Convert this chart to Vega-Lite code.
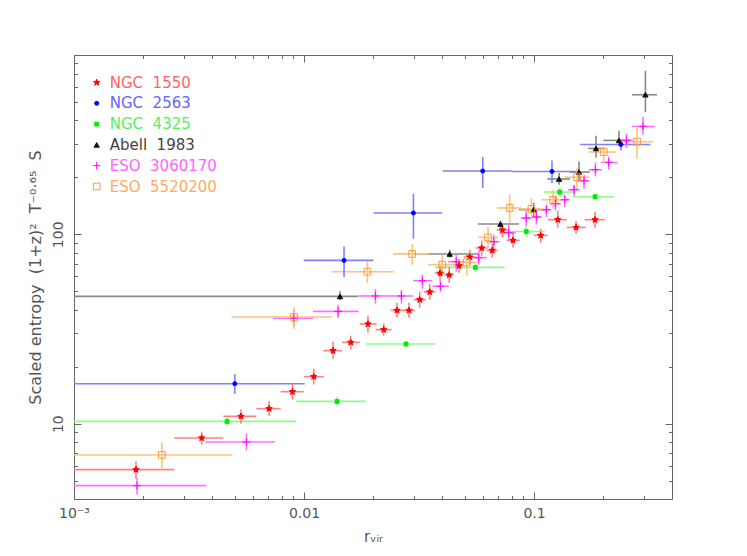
{
  "$schema": "https://vega.github.io/schema/vega-lite/v6.json",
  "width": 598,
  "height": 444,
  "autosize": "none",
  "padding": {"left": 74, "top": 55, "right": 75, "bottom": 57},
  "background": "white",
  "config": {
    "view": {"stroke": "#666666", "strokeWidth": 1},
    "font": "DejaVu Sans",
    "axis": {
      "domain": false,
      "grid": false,
      "tickColor": "#666666",
      "tickWidth": 1,
      "labelColor": "#555555",
      "labelFont": "DejaVu Sans",
      "labelFontSize": 14,
      "titleFont": "DejaVu Sans",
      "titleFontSize": 15,
      "titleFontWeight": "normal",
      "titleColor": "#555555"
    }
  },
  "data": {
    "values": [
      {"s": "NGC 1550", "x": 0.00186, "xlo": 0.001, "xhi": 0.00273, "y": 5.72, "ylo": 5.12, "yhi": 6.32},
      {"s": "NGC 1550", "x": 0.00359, "xlo": 0.00273, "xhi": 0.00446, "y": 8.40, "ylo": 7.75, "yhi": 9.07},
      {"s": "NGC 1550", "x": 0.00532, "xlo": 0.00446, "xhi": 0.00621, "y": 10.93, "ylo": 10.0, "yhi": 11.86},
      {"s": "NGC 1550", "x": 0.00705, "xlo": 0.00621, "xhi": 0.00792, "y": 12.0, "ylo": 11.02, "yhi": 13.23},
      {"s": "NGC 1550", "x": 0.00891, "xlo": 0.00792, "xhi": 0.00997, "y": 14.75, "ylo": 13.39, "yhi": 16.26},
      {"s": "NGC 1550", "x": 0.01102, "xlo": 0.00997, "xhi": 0.01218, "y": 17.71, "ylo": 16.07, "yhi": 19.51},
      {"s": "NGC 1550", "x": 0.01337, "xlo": 0.01212, "xhi": 0.01466, "y": 24.29, "ylo": 22.04, "yhi": 27.10},
      {"s": "NGC 1550", "x": 0.01596, "xlo": 0.01466, "xhi": 0.01746, "y": 26.87, "ylo": 24.59, "yhi": 29.14},
      {"s": "NGC 1550", "x": 0.01897, "xlo": 0.01746, "xhi": 0.02071, "y": 33.61, "ylo": 30.23, "yhi": 37.18},
      {"s": "NGC 1550", "x": 0.02221, "xlo": 0.0205, "xhi": 0.02406, "y": 31.36, "ylo": 29.14, "yhi": 33.73},
      {"s": "NGC 1550", "x": 0.02537, "xlo": 0.02382, "xhi": 0.02713, "y": 39.65, "ylo": 36.28, "yhi": 43.53},
      {"s": "NGC 1550", "x": 0.02861, "xlo": 0.02686, "xhi": 0.03029, "y": 39.65, "ylo": 36.28, "yhi": 43.53},
      {"s": "NGC 1550", "x": 0.03184, "xlo": 0.02999, "xhi": 0.03381, "y": 45.15, "ylo": 40.97, "yhi": 49.78},
      {"s": "NGC 1550", "x": 0.0352, "xlo": 0.03314, "xhi": 0.03738, "y": 49.60, "ylo": 45.15, "yhi": 54.86},
      {"s": "NGC 1550", "x": 0.03902, "xlo": 0.037, "xhi": 0.0409, "y": 62.32, "ylo": 56.90, "yhi": 68.26},
      {"s": "NGC 1550", "x": 0.04279, "xlo": 0.0409, "xhi": 0.04476, "y": 60.97, "ylo": 55.54, "yhi": 67.44},
      {"s": "NGC 1550", "x": 0.0472, "xlo": 0.04476, "xhi": 0.04947, "y": 68.26, "ylo": 62.70, "yhi": 74.33},
      {"s": "NGC 1550", "x": 0.05254, "xlo": 0.04947, "xhi": 0.05578, "y": 75.88, "ylo": 69.10, "yhi": 82.93},
      {"s": "NGC 1550", "x": 0.05923, "xlo": 0.05578, "xhi": 0.0629, "y": 84.66, "ylo": 77.09, "yhi": 92.51},
      {"s": "NGC 1550", "x": 0.06581, "xlo": 0.06227, "xhi": 0.06953, "y": 82.22, "ylo": 75.24, "yhi": 89.20},
      {"s": "NGC 1550", "x": 0.07287, "xlo": 0.06884, "xhi": 0.07684, "y": 105.4, "ylo": 95.96, "yhi": 115.2},
      {"s": "NGC 1550", "x": 0.08103, "xlo": 0.07608, "xhi": 0.08665, "y": 92.85, "ylo": 84.97, "yhi": 101.98},
      {"s": "NGC 1550", "x": 0.1069, "xlo": 0.0997, "xhi": 0.1147, "y": 98.67, "ylo": 90.29, "yhi": 107.0},
      {"s": "NGC 1550", "x": 0.1268, "xlo": 0.1147, "xhi": 0.1388, "y": 119.4, "ylo": 108.3, "yhi": 133.2},
      {"s": "NGC 1550", "x": 0.1523, "xlo": 0.1388, "xhi": 0.1678, "y": 108.7, "ylo": 100.7, "yhi": 118.0},
      {"s": "NGC 1550", "x": 0.1842, "xlo": 0.1661, "xhi": 0.2029, "y": 119.4, "ylo": 108.3, "yhi": 131.6},
      {"s": "NGC 2563", "x": 0.005, "xlo": 0.001, "xhi": 0.01007, "y": 16.26, "ylo": 14.35, "yhi": 18.30},
      {"s": "NGC 2563", "x": 0.01493, "xlo": 0.00997, "xhi": 0.02004, "y": 72.81, "ylo": 59.50, "yhi": 86.32},
      {"s": "NGC 2563", "x": 0.0299, "xlo": 0.02004, "xhi": 0.03997, "y": 129.6, "ylo": 94.79, "yhi": 163.8},
      {"s": "NGC 2563", "x": 0.05983, "xlo": 0.04009, "xhi": 0.07998, "y": 215.9, "ylo": 175.6, "yhi": 255.9},
      {"s": "NGC 2563", "x": 0.1197, "xlo": 0.07998, "xhi": 0.1588, "y": 214.8, "ylo": 186.6, "yhi": 245.6},
      {"s": "NGC 2563", "x": 0.2389, "xlo": 0.1588, "xhi": 0.3207, "y": 298.3, "ylo": 277.3, "yhi": 313.2},
      {"s": "NGC 4325", "x": 0.00463, "xlo": 0.001, "xhi": 0.00927, "y": 10.28, "ylo": 9.76, "yhi": 10.89},
      {"s": "NGC 4325", "x": 0.01392, "xlo": 0.00925, "xhi": 0.01854, "y": 13.11, "ylo": 12.45, "yhi": 13.88},
      {"s": "NGC 4325", "x": 0.02776, "xlo": 0.01854, "xhi": 0.03719, "y": 26.35, "ylo": 25.34, "yhi": 27.43},
      {"s": "NGC 4325", "x": 0.05561, "xlo": 0.03719, "xhi": 0.07457, "y": 66.87, "ylo": 63.46, "yhi": 69.94},
      {"s": "NGC 4325", "x": 0.09249, "xlo": 0.07608, "xhi": 0.1113, "y": 103.5, "ylo": 97.13, "yhi": 111.0},
      {"s": "NGC 4325", "x": 0.1294, "xlo": 0.1102, "xhi": 0.1488, "y": 167.2, "ylo": 157.4, "yhi": 175.6},
      {"s": "NGC 4325", "x": 0.1842, "xlo": 0.1481, "xhi": 0.222, "y": 157.9, "ylo": 152.2, "yhi": 163.8},
      {"s": "Abell 1983", "x": 0.01434, "xlo": 0.001, "xhi": 0.01712, "y": 47.0, "ylo": 44.87, "yhi": 49.96},
      {"s": "Abell 1983", "x": 0.043, "xlo": 0.02978, "xhi": 0.05708, "y": 78.70, "ylo": 75.24, "yhi": 82.93},
      {"s": "Abell 1983", "x": 0.07143, "xlo": 0.05708, "xhi": 0.08605, "y": 113.3, "ylo": 108.3, "yhi": 118.0},
      {"s": "Abell 1983", "x": 0.0997, "xlo": 0.08605, "xhi": 0.1136, "y": 134.9, "ylo": 123.9, "yhi": 146.9},
      {"s": "Abell 1983", "x": 0.1285, "xlo": 0.1141, "xhi": 0.1437, "y": 195.8, "ylo": 182.7, "yhi": 210.7},
      {"s": "Abell 1983", "x": 0.1569, "xlo": 0.143, "xhi": 0.1747, "y": 213.3, "ylo": 190.3, "yhi": 242.6},
      {"s": "Abell 1983", "x": 0.186, "xlo": 0.1721, "xhi": 0.2009, "y": 284.2, "ylo": 254.7, "yhi": 331.6},
      {"s": "Abell 1983", "x": 0.2341, "xlo": 0.1999, "xhi": 0.2673, "y": 313.2, "ylo": 291.2, "yhi": 352.4},
      {"s": "Abell 1983", "x": 0.305, "xlo": 0.2668, "xhi": 0.3426, "y": 545.8, "ylo": 442.3, "yhi": 730.9},
      {"s": "ESO 3060170", "x": 0.00188, "xlo": 0.001, "xhi": 0.00376, "y": 4.706, "ylo": 4.219, "yhi": 5.168},
      {"s": "ESO 3060170", "x": 0.00562, "xlo": 0.00373, "xhi": 0.00746, "y": 8.003, "ylo": 7.228, "yhi": 8.855},
      {"s": "ESO 3060170", "x": 0.00902, "xlo": 0.00733, "xhi": 0.01094, "y": 36.06, "ylo": 32.52, "yhi": 39.99},
      {"s": "ESO 3060170", "x": 0.01406, "xlo": 0.01094, "xhi": 0.01729, "y": 39.17, "ylo": 36.15, "yhi": 42.51},
      {"s": "ESO 3060170", "x": 0.02044, "xlo": 0.01717, "xhi": 0.02358, "y": 47.23, "ylo": 43.03, "yhi": 51.43},
      {"s": "ESO 3060170", "x": 0.02651, "xlo": 0.02358, "xhi": 0.02978, "y": 47.23, "ylo": 43.03, "yhi": 50.99},
      {"s": "ESO 3060170", "x": 0.03271, "xlo": 0.02978, "xhi": 0.03616, "y": 56.90, "ylo": 51.62, "yhi": 61.19},
      {"s": "ESO 3060170", "x": 0.03918, "xlo": 0.03616, "xhi": 0.04257, "y": 53.21, "ylo": 49.60, "yhi": 57.11},
      {"s": "ESO 3060170", "x": 0.04589, "xlo": 0.04228, "xhi": 0.04997, "y": 71.67, "ylo": 63.46, "yhi": 78.03},
      {"s": "ESO 3060170", "x": 0.05748, "xlo": 0.05254, "xhi": 0.06227, "y": 75.24, "ylo": 69.10, "yhi": 81.93},
      {"s": "ESO 3060170", "x": 0.0668, "xlo": 0.06227, "xhi": 0.07093, "y": 91.39, "ylo": 82.93, "yhi": 99.52},
      {"s": "ESO 3060170", "x": 0.07762, "xlo": 0.07093, "xhi": 0.08325, "y": 101.98, "ylo": 92.51, "yhi": 112.4},
      {"s": "ESO 3060170", "x": 0.09249, "xlo": 0.08752, "xhi": 0.09802, "y": 121.9, "ylo": 111.0, "yhi": 133.2},
      {"s": "ESO 3060170", "x": 0.1024, "xlo": 0.09743, "xhi": 0.1083, "y": 123.4, "ylo": 112.4, "yhi": 134.9},
      {"s": "ESO 3060170", "x": 0.1132, "xlo": 0.1077, "xhi": 0.119, "y": 134.9, "ylo": 123.4, "yhi": 143.3},
      {"s": "ESO 3060170", "x": 0.1239, "xlo": 0.117, "xhi": 0.1307, "y": 145.0, "ylo": 133.7, "yhi": 157.4},
      {"s": "ESO 3060170", "x": 0.136, "xlo": 0.1294, "xhi": 0.143, "y": 152.2, "ylo": 139.4, "yhi": 161.9},
      {"s": "ESO 3060170", "x": 0.1493, "xlo": 0.1406, "xhi": 0.158, "y": 172.0, "ylo": 158.5, "yhi": 182.7},
      {"s": "ESO 3060170", "x": 0.165, "xlo": 0.1553, "xhi": 0.1747, "y": 191.9, "ylo": 173.5, "yhi": 206.4},
      {"s": "ESO 3060170", "x": 0.1849, "xlo": 0.1729, "xhi": 0.1975, "y": 219.3, "ylo": 202.2, "yhi": 239.7},
      {"s": "ESO 3060170", "x": 0.2112, "xlo": 0.195, "xhi": 0.2304, "y": 239.7, "ylo": 219.3, "yhi": 257.8},
      {"s": "ESO 3060170", "x": 0.2521, "xlo": 0.2358, "xhi": 0.2686, "y": 313.2, "ylo": 286.6, "yhi": 339.8},
      {"s": "ESO 3060170", "x": 0.2978, "xlo": 0.2668, "xhi": 0.3348, "y": 371.3, "ylo": 335.7, "yhi": 417.8},
      {"s": "ESO 5520200", "x": 0.00241, "xlo": 0.001, "xhi": 0.00488, "y": 6.835, "ylo": 5.716, "yhi": 7.964},
      {"s": "ESO 5520200", "x": 0.00905, "xlo": 0.00484, "xhi": 0.01329, "y": 36.59, "ylo": 31.74, "yhi": 41.12},
      {"s": "ESO 5520200", "x": 0.01886, "xlo": 0.01323, "xhi": 0.02455, "y": 63.46, "ylo": 55.33, "yhi": 71.93},
      {"s": "ESO 5520200", "x": 0.02954, "xlo": 0.02438, "xhi": 0.03484, "y": 78.79, "ylo": 69.10, "yhi": 88.88},
      {"s": "ESO 5520200", "x": 0.03989, "xlo": 0.03467, "xhi": 0.04589, "y": 69.10, "ylo": 60.45, "yhi": 78.03},
      {"s": "ESO 5520200", "x": 0.05098, "xlo": 0.04589, "xhi": 0.05708, "y": 71.06, "ylo": 60.45, "yhi": 78.03},
      {"s": "ESO 5520200", "x": 0.0631, "xlo": 0.05708, "xhi": 0.06974, "y": 96.30, "ylo": 84.66, "yhi": 109.3},
      {"s": "ESO 5520200", "x": 0.0784, "xlo": 0.06904, "xhi": 0.08814, "y": 137.7, "ylo": 114.7, "yhi": 161.9},
      {"s": "ESO 5520200", "x": 0.09743, "xlo": 0.08665, "xhi": 0.1094, "y": 136.2, "ylo": 119.4, "yhi": 155.5},
      {"s": "ESO 5520200", "x": 0.1212, "xlo": 0.1077, "xhi": 0.136, "y": 152.2, "ylo": 136.5, "yhi": 172.0},
      {"s": "ESO 5520200", "x": 0.1538, "xlo": 0.136, "xhi": 0.1735, "y": 200.3, "ylo": 174.1, "yhi": 224.7},
      {"s": "ESO 5520200", "x": 0.2009, "xlo": 0.1729, "xhi": 0.2281, "y": 272.0, "ylo": 237.9, "yhi": 291.2},
      {"s": "ESO 5520200", "x": 0.2805, "xlo": 0.2281, "xhi": 0.3291, "y": 308.3, "ylo": 249.8, "yhi": 364.2}
    ]
  },
  "resolve": {"scale": {"y": "independent", "color": "independent"}},
  "layer": [
    {
      "resolve": {"axis": {"x": "independent", "y": "independent"}},
      "layer": [
        {
          "mark": {"type": "rule", "strokeWidth": 1.6},
          "encoding": {
            "x": {
              "field": "xlo",
              "type": "quantitative",
              "scale": {"type": "log", "domain": [0.001, 0.398], "nice": false},
              "axis": {
                "orient": "bottom",
                "title": "rᵥᵢᵣ",
                "titlePadding": 9,
                "values": [0.001, 0.002, 0.003, 0.004, 0.005, 0.006, 0.007, 0.008, 0.009, 0.01, 0.02, 0.03, 0.04, 0.05, 0.06, 0.07, 0.08, 0.09, 0.1, 0.2, 0.3],
                "labelExpr": "datum.value == 0.001 ? '10⁻³' : datum.value == 0.01 ? '0.01' : datum.value == 0.1 ? '0.1' : ''",
                "labelPadding": 14,
                "labelFlush": false,
                "tickSize": {"condition": {"test": "datum.value == 0.001 || datum.value == 0.01 || datum.value == 0.1", "value": -7}, "value": -3.5}
              }
            },
            "x2": {"field": "xhi"},
            "y": {
              "field": "y",
              "type": "quantitative",
              "scale": {"type": "log", "domain": [4, 885], "nice": false},
              "axis": {
                "orient": "left",
                "title": "Scaled entropy\u00a0 (1+z)²\u00a0 T⁻⁰·⁶⁵\u00a0 S",
                "titleFontSize": 16,
                "titlePadding": 8,
                "values": [4, 5, 6, 7, 8, 9, 10, 20, 30, 40, 50, 60, 70, 80, 90, 100, 200, 300, 400, 500, 600, 700, 800],
                "labelExpr": "datum.value == 10 ? '10' : datum.value == 100 ? '100' : ''",
                "labelAngle": -90,
                "labelAlign": "center",
                "labelBaseline": "bottom",
                "labelPadding": 16,
                "labelFlush": false,
                "tickSize": {"condition": {"test": "datum.value == 10 || datum.value == 100", "value": -7}, "value": -3.5}
              }
            },
            "color": {
              "field": "s",
              "type": "nominal",
              "scale": {
                "domain": ["NGC 1550", "NGC 2563", "NGC 4325", "Abell 1983", "ESO 3060170", "ESO 5520200"],
                "range": ["#ff8080", "#8080ff", "#88ff88", "#888888", "#ff70ff", "#ffc080"]
              },
              "legend": null
            }
          }
        },
        {
          "mark": {"type": "rule", "strokeWidth": 1.6},
          "encoding": {
            "x": {"field": "x", "type": "quantitative", "axis": null},
            "y": {"field": "ylo", "type": "quantitative", "axis": null},
            "y2": {"field": "yhi"},
            "color": {"field": "s", "type": "nominal", "legend": null}
          }
        },
        {
          "mark": {"type": "point", "strokeWidth": 1, "opacity": 1},
          "encoding": {
            "x": {
              "field": "x",
              "type": "quantitative",
              "axis": {
                "orient": "top",
                "title": null,
                "labels": false,
                "values": [0.001, 0.002, 0.003, 0.004, 0.005, 0.006, 0.007, 0.008, 0.009, 0.01, 0.02, 0.03, 0.04, 0.05, 0.06, 0.07, 0.08, 0.09, 0.1, 0.2, 0.3],
                "tickSize": {"condition": {"test": "datum.value == 0.001 || datum.value == 0.01 || datum.value == 0.1", "value": -7}, "value": -3.5}
              }
            },
            "y": {
              "field": "y",
              "type": "quantitative",
              "axis": {
                "orient": "right",
                "title": null,
                "labels": false,
                "values": [4, 5, 6, 7, 8, 9, 10, 20, 30, 40, 50, 60, 70, 80, 90, 100, 200, 300, 400, 500, 600, 700, 800],
                "tickSize": {"condition": {"test": "datum.value == 10 || datum.value == 100", "value": -7}, "value": -3.5}
              }
            },
            "shape": {
              "field": "s",
              "type": "nominal",
              "scale": {
                "domain": ["NGC 1550", "NGC 2563", "NGC 4325", "Abell 1983", "ESO 3060170", "ESO 5520200"],
                "range": [
                  "M0,-1L0.235,-0.324L0.951,-0.309L0.38,0.124L0.588,0.809L0,0.4L-0.588,0.809L-0.38,0.124L-0.951,-0.309L-0.235,-0.324Z",
                  "circle", "square", "triangle-up", "M-1,0L1,0M0,-1L0,1", "square"
                ]
              },
              "legend": null
            },
            "fill": {
              "field": "s",
              "type": "nominal",
              "scale": {
                "domain": ["NGC 1550", "NGC 2563", "NGC 4325", "Abell 1983", "ESO 3060170", "ESO 5520200"],
                "range": ["#ff0000", "#0000ff", "#00ee00", "#111111", "transparent", "transparent"]
              },
              "legend": null
            },
            "stroke": {
              "field": "s",
              "type": "nominal",
              "scale": {
                "domain": ["NGC 1550", "NGC 2563", "NGC 4325", "Abell 1983", "ESO 3060170", "ESO 5520200"],
                "range": ["#ff0000", "#0000ff", "#00ee00", "#111111", "#ff00ff", "#ff9933"]
              },
              "legend": null
            },
            "size": {
              "field": "s",
              "type": "nominal",
              "scale": {
                "type": "ordinal",
                "domain": ["NGC 1550", "NGC 2563", "NGC 4325", "Abell 1983", "ESO 3060170", "ESO 5520200"],
                "range": [45, 16, 15, 28, 60, 45]
              },
              "legend": null
            }
          }
        }
      ]
    },
    {
      "data": {
        "values": [
          {"s": "NGC 1550", "label": "NGC\u00a0\u00a01550"},
          {"s": "NGC 2563", "label": "NGC\u00a0\u00a02563"},
          {"s": "NGC 4325", "label": "NGC\u00a0\u00a04325"},
          {"s": "Abell 1983", "label": "Abell\u00a0\u00a01983"},
          {"s": "ESO 3060170", "label": "ESO\u00a0\u00a03060170"},
          {"s": "ESO 5520200", "label": "ESO\u00a0\u00a05520200"}
        ]
      },
      "encoding": {
        "y": {
          "field": "s",
          "type": "nominal",
          "scale": {
            "type": "point",
            "domain": ["NGC 1550", "NGC 2563", "NGC 4325", "Abell 1983", "ESO 3060170", "ESO 5520200"],
            "range": [27.5, 131.5],
            "padding": 0
          },
          "axis": null
        }
      },
      "layer": [
        {
          "mark": {"type": "point", "strokeWidth": 1, "opacity": 1},
          "encoding": {
            "x": {"datum": 0.001255, "type": "quantitative", "axis": null},
            "shape": {"field": "s", "type": "nominal", "legend": null},
            "fill": {"field": "s", "type": "nominal", "legend": null},
            "stroke": {"field": "s", "type": "nominal", "legend": null},
            "size": {
              "field": "s",
              "type": "nominal",
              "scale": {
                "type": "ordinal",
                "domain": ["NGC 1550", "NGC 2563", "NGC 4325", "Abell 1983", "ESO 3060170", "ESO 5520200"],
                "range": [45, 16, 15, 28, 60, 45]
              },
              "legend": null
            }
          }
        },
        {
          "mark": {"type": "text", "align": "left", "baseline": "middle", "font": "DejaVu Sans", "fontSize": 15},
          "encoding": {
            "x": {"datum": 0.00143, "type": "quantitative", "axis": null},
            "text": {"field": "label"},
            "color": {
              "field": "s",
              "type": "nominal",
              "scale": {
                "domain": ["NGC 1550", "NGC 2563", "NGC 4325", "Abell 1983", "ESO 3060170", "ESO 5520200"],
                "range": ["#ff6464", "#6464ff", "#5aee5a", "#444444", "#ff64ff", "#ffaa64"]
              },
              "legend": null
            }
          }
        }
      ]
    }
  ]
}
